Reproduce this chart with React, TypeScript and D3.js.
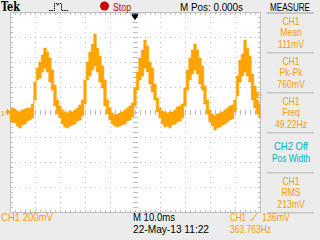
import React from 'react';
import * as d3 from 'd3';

// Time axis of the record (ms), 1 ms per sample, screen spans -50..+50 ms (10 ms/div)
const sampleTimesMs = d3.range(-50, 51, 1);

const ch1MaxMv = [
  16, 32, 24, 8, 0, 16, 24, 32, 32, 64,
  240, 352, 400, 456, 512, 480, 432, 336, 216, 96,
  48, 16, 0, -8, 8, 0, 16, 32, 56, 96,
  256, 400, 480, 544, 624, 512, 448, 368, 256, 96,
  32, -8, -24, -16, -8, 0, 16, 32, 48, 72,
  192, 320, 432, 496, 576, 528, 400, 352, 224, 112,
  32, 8, 0, -8, 0, 0, 16, 40, 48, 64,
  192, 336, 432, 496, 544, 496, 432, 368, 208, 96,
  16, -16, -32, -16, -8, 0, 16, 32, 48, 56,
  96, 288, 416, 464, 576, 512, 448, 304, 208, 96,
  64,
];

// CH1 noise envelope, lower edge (mV)
const ch1MinMv = [
  -72, -80, -88, -112, -128, -104, -96, -72, -64, -48,
  96, 256, 272, 320, 352, 320, 240, 176, 48, -16,
  -48, -96, -120, -128, -112, -104, -96, -72, -64, -32,
  64, 256, 288, 336, 368, 320, 240, 192, 48, -16,
  -64, -96, -112, -120, -112, -104, -96, -72, -64, -40,
  48, 176, 256, 288, 352, 320, 224, 160, 96, 0,
  -48, -96, -120, -112, -128, -104, -96, -80, -72, -48,
  48, 176, 256, 304, 336, 304, 224, 176, 64, -16,
  -80, -112, -144, -128, -120, -104, -96, -80, -64, -56,
  0, 128, 240, 288, 320, 288, 240, 96, 32, -16,
  -48,
];

const triggerLevelMv = 136;

const measureSources = ['CH1', 'CH1', 'CH1', 'CH2 Off', 'CH1'];
const measureNames = ['Mean', 'Pk-Pk', 'Freq', 'Pos Width', 'RMS'];
const measureValues = ['111mV', '760mV', '49.22Hz', '', '213mV'];

const ORANGE = '#ffa400';
const TXT_ORANGE = '#f99c00';
const CYAN = '#00b2c4';
const GRID = '#bdbdbd';
const BG = '#ececec';
const FONT = "'Liberation Sans', Arial, sans-serif";

type TProps = { x: number; y: number; w?: number; sx?: number; color?: string; size?: number; anchor?: string; children: React.ReactNode; weight?: string; family?: string };
function T({ x, y, w, sx, color = '#000', size = 10, anchor = 'start', children, weight = 'normal', family = FONT }: TProps) {
  const extra: any = {};
  if (w) {
    extra.textLength = w;
    extra.lengthAdjust = 'spacingAndGlyphs';
  }
  if (sx) {
    return (
      <text transform={`translate(${x},${y}) scale(${sx},1)`} x={0} y={0} fill={color} fontSize={size} fontFamily={family} fontWeight={weight} textAnchor={anchor} {...extra}>
        {children}
      </text>
    );
  }
  return (
    <text x={x} y={y} fill={color} fontSize={size} fontFamily={family} fontWeight={weight} textAnchor={anchor} {...extra}>
      {children}
    </text>
  );
}

export default function App() {
  const W = 320, H = 240;
  const x = d3.scaleLinear().domain([-50, 50]).range([10, 260]);
  const y = d3.scaleLinear().domain([-800, 800]).range([212, 12]);

  const majorT = d3.range(-50, 51, 10);
  const majorV = d3.range(-800, 801, 200);
  const minorT = d3.range(-50, 50.001, 2);
  const minorV = d3.range(-800, 800.001, 40);

  const dots: JSX.Element[] = [];
  majorV.forEach((v) => {
    if (v === -800 || v === 800 || v === 0) return;
    const py = Math.round(y(v));
    minorT.forEach((t, i) => {
      dots.push(<rect key={`h${v}_${i}`} x={Math.round(x(t))} y={py} width={1} height={1} fill={GRID} />);
    });
  });
  majorT.forEach((t) => {
    if (t === -50 || t === 50 || t === 0) return;
    const px = Math.round(x(t));
    minorV.forEach((v, i) => {
      dots.push(<rect key={`v${t}_${i}`} x={px} y={Math.round(y(v))} width={1} height={1} fill={GRID} />);
    });
  });

  const ticks: JSX.Element[] = [];
  const cx = Math.round(x(0));
  const cy = Math.round(y(0));
  minorT.forEach((t, i) => {
    const px = Math.round(x(t));
    ticks.push(<rect key={`ct${i}`} x={px} y={cy - 2} width={1} height={5} fill={GRID} />);
    ticks.push(<rect key={`tt${i}`} x={px} y={13} width={1} height={2} fill={GRID} />);
    ticks.push(<rect key={`bt${i}`} x={px} y={210} width={1} height={2} fill={GRID} />);
  });
  minorV.forEach((v, i) => {
    const py = Math.round(y(v));
    ticks.push(<rect key={`cv${i}`} x={cx - 2} y={py} width={5} height={1} fill={GRID} />);
    ticks.push(<rect key={`lt${i}`} x={11} y={py} width={2} height={1} fill={GRID} />);
    ticks.push(<rect key={`rt${i}`} x={258} y={py} width={2} height={1} fill={GRID} />);
  });

  const area = d3
    .area<number>()
    .x((_, i) => x(sampleTimesMs[i]))
    .y0((_, i) => y(ch1MinMv[i]))
    .y1((_, i) => y(ch1MaxMv[i]))
    .curve(d3.curveStep);

  const trigY = y(triggerLevelMv);
  const groundY = y(0);
  const PS = 10.5;
  const PX = 0.82;

  return (
    <svg width={W} height={H} style={{ position: 'absolute', left: 0, top: 0 }} shapeRendering="crispEdges">
      <rect x={0} y={0} width={W} height={H} fill={BG} />
      <rect x={10} y={12} width={251} height={201} fill="#fff" />
      {dots}
      {ticks}
      <rect x={10} y={12} width={1} height={201} fill={GRID} />
      <rect x={260} y={12} width={1} height={201} fill={GRID} />
      <rect x={10} y={12} width={251} height={1} fill={GRID} />
      <rect x={10} y={212} width={251} height={1} fill={GRID} />

      <path d={area(sampleTimesMs) || ''} fill={ORANGE} stroke={ORANGE} strokeWidth={0.6} shapeRendering="auto" />

      <g shapeRendering="auto">
        <T x={0.5} y={groundY + 3.5} size={8} color={TXT_ORANGE}>1</T>
        <path d={`M5,${groundY} H9 M7,${groundY - 2.5} L10,${groundY} L7,${groundY + 2.5} Z`} stroke={TXT_ORANGE} fill={TXT_ORANGE} strokeWidth={1} />
        <path d={`M254,${trigY} L258,${trigY - 3} L258,${trigY + 3} Z M258,${trigY} H262`} stroke={ORANGE} fill={ORANGE} strokeWidth={1} />
        <path d={`M131.5,14 H138.5 M132,15 H138 L135,19.5 Z`} stroke="#000" fill="#000" strokeWidth={1} />
      </g>

      <g shapeRendering="auto">
        <T x={1} y={11} size={12} weight="bold" family="'DejaVu Serif', 'Liberation Serif', serif" w={19}>Tek</T>
        <path d="M49,10.5 H54.5 V3.5 H57 V5 H58.5 V3.5 H61.5 V10.5 H68" fill="none" stroke="#000" strokeWidth={1} strokeDasharray="1.5,0.8" />
        <circle cx={104.5} cy={6} r={4.5} fill="#cc0000" />
        <T x={113} y={10.5} w={18} color="#cc0000" size={10}>Stop</T>
        <T x={180} y={10.5} w={63} size={10}>M Pos: 0.000s</T>
        <T x={270} y={10.5} w={40} size={10}>MEASURE</T>
      </g>

      <rect x={266} y={12} width={48} height={1.5} fill="#c4c4c4" />
      {measureSources.map((src, i) => {
        const top = 12 + i * 40;
        const isOff = measureValues[i] === '';
        const color = isOff ? CYAN : TXT_ORANGE;
        return (
          <g key={i} shapeRendering="auto">
            {isOff ? (
              <>
                <T x={291} y={top + 17.5} anchor="middle" color={color} size={PS} sx={0.9}>{src}</T>
                <T x={291} y={top + 29.5} anchor="middle" color={color} size={PS} sx={0.8}>{measureNames[i]}</T>
              </>
            ) : (
              <>
                <T x={291} y={top + 12.5} anchor="middle" color={color} size={PS} sx={PX}>{src}</T>
                <T x={291} y={top + 24} anchor="middle" color={color} size={PS} sx={PX}>{measureNames[i]}</T>
                <T x={291} y={top + 35.5} anchor="middle" color={color} size={PS} sx={PX}>{measureValues[i]}</T>
              </>
            )}
            <rect x={267} y={top + 40} width={47} height={1.5} fill="#c4c4c4" />
          </g>
        );
      })}

      <g shapeRendering="auto">
        <T x={1} y={220.5} w={52} color={TXT_ORANGE} size={10.5}>CH1 200mV</T>
        <T x={133} y={220.5} w={42} size={10.5}>M 10.0ms</T>
        <T x={133} y={233} w={76} size={10.5}>22-May-13 11:22</T>
        <T x={230} y={220.5} w={16} color={TXT_ORANGE} size={10.5}>CH1</T>
        <path d="M250,220 H252 L257,213.5" fill="none" stroke={TXT_ORANGE} strokeWidth={1} />
        <T x={262} y={220.5} w={28} color={TXT_ORANGE} size={10.5}>136mV</T>
        <T x={230} y={233} w={41} color={TXT_ORANGE} size={10.5}>363.763Hz</T>
      </g>
    </svg>
  );
}
